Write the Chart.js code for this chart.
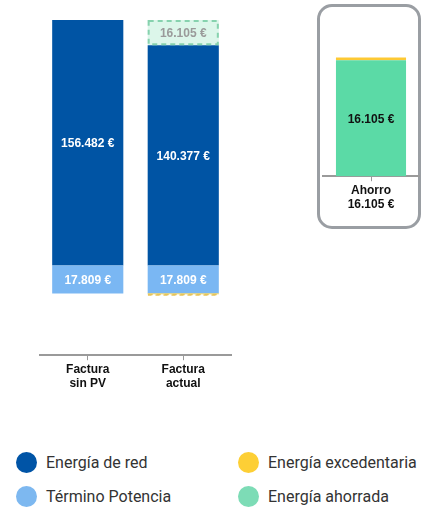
<!DOCTYPE html>
<html lang="es">
<head>
  <meta charset="UTF-8" />
  <title>Factura y ahorro</title>
  <script src="https://cdn.jsdelivr.net/npm/chart.js"></script>
  <style>
    body {
      margin: 0;
      background: #fff;
      width: 428px;
      height: 508px;
      position: relative;
      overflow: hidden;
      font-family: Roboto, sans-serif;
    }
    #wrapMain {
      position: absolute;
      left: 0;
      top: 0;
      width: 260px;
      height: 393px;
    }
    #box {
      position: absolute;
      left: 317px;
      top: 4px;
      width: 104px;
      height: 225px;
      border: 3px solid #9a9ea3;
      border-radius: 15px;
      box-sizing: border-box;
    }
    #wrapAhorro {
      position: absolute;
      left: 321px;
      top: 7px;
      width: 99px;
      height: 207px;
    }
    .legend-item {
      position: absolute;
      display: flex;
      align-items: center;
      font-size: 16px;
      color: #333;
    }
    .legend-item .dot {
      width: 21px;
      height: 21px;
      border-radius: 50%;
      margin-right: 9px;
      margin-left: -10px;
    }
  </style>
</head>
<body>
  <div id="wrapMain"><canvas id="main"></canvas></div>
  <div id="box"></div>
  <div id="wrapAhorro"><canvas id="ahorro"></canvas></div>

  <div class="legend-item" style="left:26px; top:452px;"><span class="dot" style="background:#0054a6"></span>Energía de red</div>
  <div class="legend-item" style="left:248px; top:452px;"><span class="dot" style="background:#fdcf35"></span>Energía excedentaria</div>
  <div class="legend-item" style="left:26px; top:486px;"><span class="dot" style="background:#7db8f0"></span>Término Potencia</div>
  <div class="legend-item" style="left:248px; top:486px;"><span class="dot" style="background:#7ddcb6"></span>Energía ahorrada</div>

  <script>
    // Datos
    const facturas = [['Factura', 'sin PV'], ['Factura', 'actual']];
    const potencia = [17809, 17809];
    const red = [156482, 140377];
    const ahorrada = [null, 16105];
    const excedentaria = [null, -400];

    const ahorroVerde = [16105];
    const ahorroAmarillo = [400];

    const fmt = n => String(Math.abs(n)).replace(/\B(?=(\d{3})+(?!\d))/g, '.') + ' €';

    Chart.defaults.font.family = 'Arial, "Liberation Sans", sans-serif';
    Chart.defaults.animation = false;

    // Etiquetas y bordes discontinuos
    const segPlugin = {
      id: 'segPlugin',
      afterDatasetsDraw(chart) {
        const ctx = chart.ctx;
        chart.data.datasets.forEach((ds, i) => {
          const meta = chart.getDatasetMeta(i);
          meta.data.forEach((bar, j) => {
            const v = ds.data[j];
            if (v === null || v === undefined) return;
            const top = Math.min(bar.y, bar.base);
            const bottom = Math.max(bar.y, bar.base);
            const left = bar.x - bar.width / 2;
            if (ds.dashColor) {
              ctx.save();
              ctx.strokeStyle = ds.dashColor;
              ctx.lineWidth = ds.dashWidth || 2;
              ctx.setLineDash(ds.dash || [5, 4]);
              ctx.strokeRect(left + 1, top + 1, bar.width - 2, Math.max(bottom - top - 2, 0.5));
              ctx.restore();
            }
            if (ds.labelColor) {
              ctx.save();
              ctx.fillStyle = ds.labelColor;
              ctx.font = 'bold 12px Arial, "Liberation Sans", sans-serif';
              ctx.textAlign = 'center';
              ctx.textBaseline = 'middle';
              ctx.fillText(fmt(v), bar.x, (top + bottom) / 2 + 1);
              ctx.restore();
            }
          });
        });
      }
    };

    const xAxis = {
      stacked: true,
      grid: { drawOnChartArea: false, offset: false, tickLength: 5, color: '#999', lineWidth: 1 },
      border: { color: '#9a9a9a', width: 2 },
      ticks: { color: '#111', font: { size: 12, weight: 'bold' }, padding: 2, maxRotation: 0 }
    };

    new Chart(document.getElementById('main'), {
      type: 'bar',
      data: {
        labels: facturas,
        datasets: [
          { label: 'Energía excedentaria', data: excedentaria, backgroundColor: '#fdcf35',
            dashColor: '#e6c45a', dashWidth: 1.5, dash: [4, 4] },
          { label: 'Término Potencia', data: potencia, backgroundColor: '#7ab7f3', labelColor: '#fff' },
          { label: 'Energía de red', data: red, backgroundColor: '#0054a4', labelColor: '#fff' },
          { label: 'Energía ahorrada', data: ahorrada, backgroundColor: '#dcf6ea', labelColor: '#9a9a9a',
            dashColor: '#86d2ae', dashWidth: 2, dash: [5, 4] }
        ]
      },
      options: {
        responsive: true,
        maintainAspectRatio: false,
        layout: { padding: { left: 40, right: 29, top: 20, bottom: 0 } },
        datasets: { bar: { categoryPercentage: 0.745, barPercentage: 1 } },
        plugins: { legend: { display: false }, tooltip: { enabled: false } },
        scales: {
          x: xAxis,
          y: { stacked: true, display: false, min: -39300, max: 174300 }
        }
      },
      plugins: [segPlugin]
    });

    new Chart(document.getElementById('ahorro'), {
      type: 'bar',
      data: {
        labels: [['Ahorro', fmt(ahorroVerde[0])]],
        datasets: [
          { label: 'Energía ahorrada', data: ahorroVerde, backgroundColor: '#5bdaa6', labelColor: '#111' },
          { label: 'Energía excedentaria', data: ahorroAmarillo, backgroundColor: '#fdc934' }
        ]
      },
      options: {
        responsive: true,
        maintainAspectRatio: false,
        layout: { padding: { left: 2, right: 1, top: 13, bottom: 0 } },
        datasets: { bar: { categoryPercentage: 0.73, barPercentage: 1 } },
        plugins: { legend: { display: false }, tooltip: { enabled: false } },
        scales: {
          x: xAxis,
          y: { stacked: true, display: false, min: 0, max: 21700 }
        }
      },
      plugins: [segPlugin]
    });
  </script>
</body>
</html>
